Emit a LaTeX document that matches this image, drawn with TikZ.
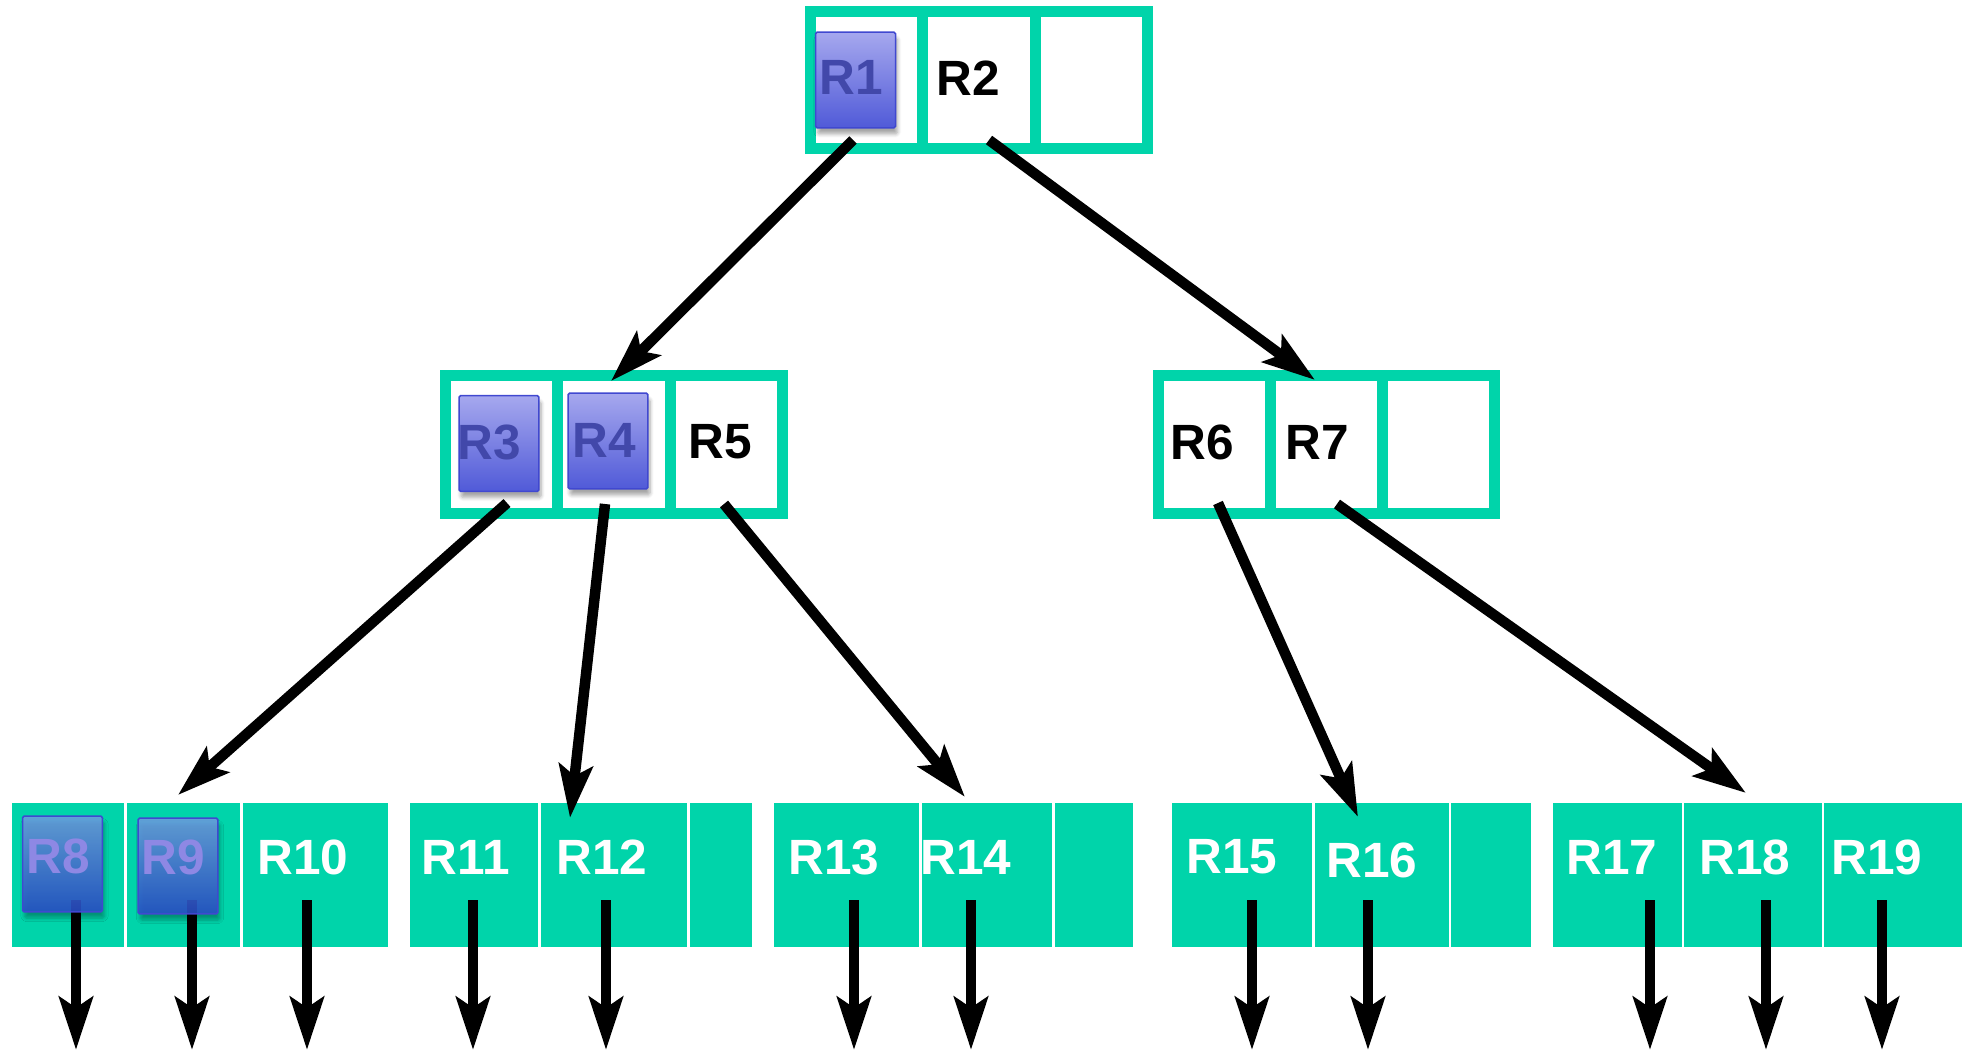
\documentclass[tikz,border=0pt]{standalone}
\usepackage{fontspec}
\setmainfont{Liberation Sans}
\usetikzlibrary{arrows.meta,shadows.blur}
\definecolor{tealgreen}{RGB}{0,212,170}
\definecolor{boxtop}{RGB}{166,168,238}
\definecolor{boxbot}{RGB}{80,90,216}
\definecolor{boxedge}{RGB}{64,72,208}
\definecolor{boxtext}{RGB}{66,72,170}
\definecolor{leaftop}{RGB}{108,156,222}
\definecolor{leafbot}{RGB}{40,78,200}
\definecolor{leaftext}{RGB}{142,136,228}

\tikzset{
    keycell/.style={draw=tealgreen, line width=0.22cm, minimum width=2.246cm, minimum height=2.75cm, inner sep=0pt},
    leafcell/.style={fill=tealgreen, minimum height=2.88cm, inner sep=0pt},
    rect/.style={draw=boxedge, line width=0.03cm, rounded corners=1pt, top color=boxtop, bottom color=boxbot,
        minimum width=1.6cm, minimum height=1.92cm, inner sep=0pt,
        blur shadow={shadow xshift=0.4mm, shadow yshift=-1.2mm, shadow opacity=35, shadow blur steps=6}},
    leafrect/.style={rect, top color=leaftop, bottom color=leafbot, fill opacity=0.88},
    entry/.style={font=\fontsize{28.2}{32}\selectfont\bfseries, inner sep=0pt},
    link/.style={line width=0.21cm, -{Stealth[length=30pt, width=19pt, inset=6pt]}}
}

\begin{document}
\begin{tikzpicture}[x=0.02cm, y=-0.02cm]
        \useasboundingbox (0,0) rectangle (1968,1053);

        \node[keycell] (t1) at (866.7,80) {};
        \node[keycell] (t2) at (979,80) {};
        \node[keycell] (t3) at (1091.3,80) {};

        \node[keycell] (m1) at (501.7,444.5) {};
        \node[keycell] (m2) at (614,444.5) {};
        \node[keycell] (m3) at (726.3,444.5) {};
        \node[keycell] (n1) at (1214.5,444.5) {};
        \node[keycell] (n2) at (1326.5,444.5) {};
        \node[keycell] (n3) at (1438.5,444.5) {};

        \node[leafcell, minimum width=2.24cm] (b1) at (68,875) {};
        \node[leafcell, minimum width=2.26cm] (b2) at (183.5,875) {};
        \node[leafcell, minimum width=2.90cm] (b3) at (315.5,875) {};
        \node[leafcell, minimum width=2.56cm] (b4) at (474,875) {};
        \node[leafcell, minimum width=2.92cm] (b5) at (614,875) {};
        \node[leafcell, minimum width=1.24cm] (b6) at (721,875) {};
        \node[leafcell, minimum width=2.90cm] (b7) at (846.5,875) {};
        \node[leafcell, minimum width=2.60cm] (b8) at (987,875) {};
        \node[leafcell, minimum width=1.56cm] (b9) at (1094,875) {};
        \node[leafcell, minimum width=2.80cm] (b10) at (1242,875) {};
        \node[leafcell, minimum width=2.68cm] (b11) at (1382,875) {};
        \node[leafcell, minimum width=1.60cm] (b12) at (1491,875) {};
        \node[leafcell, minimum width=2.58cm] (b13) at (1617.5,875) {};
        \node[leafcell, minimum width=2.76cm] (b14) at (1753,875) {};
        \node[leafcell, minimum width=2.76cm] (b15) at (1893,875) {};

        \coordinate (d1) at (76,900);    \coordinate (e1) at (76,1050);
        \coordinate (d2) at (192,900);   \coordinate (e2) at (192,1050);
        \coordinate (d3) at (307,900);   \coordinate (e3) at (307,1050);
        \coordinate (d4) at (473,900);   \coordinate (e4) at (473,1050);
        \coordinate (d5) at (606,900);   \coordinate (e5) at (606,1050);
        \coordinate (d6) at (854,900);   \coordinate (e6) at (854,1050);
        \coordinate (d7) at (971,900);   \coordinate (e7) at (971,1050);
        \coordinate (d8) at (1252,900);  \coordinate (e8) at (1252,1050);
        \coordinate (d9) at (1368,900);  \coordinate (e9) at (1368,1050);
        \coordinate (d10) at (1650,900); \coordinate (e10) at (1650,1050);
        \coordinate (d11) at (1766,900); \coordinate (e11) at (1766,1050);
        \coordinate (d12) at (1882,900); \coordinate (e12) at (1882,1050);

        \draw[link] (d1) -- (e1);
        \draw[link] (d2) -- (e2);
        \draw[link] (d3) -- (e3);
        \draw[link] (d4) -- (e4);
        \draw[link] (d5) -- (e5);
        \draw[link] (d6) -- (e6);
        \draw[link] (d7) -- (e7);
        \draw[link] (d8) -- (e8);
        \draw[link] (d9) -- (e9);
        \draw[link] (d10) -- (e10);
        \draw[link] (d11) -- (e11);
        \draw[link] (d12) -- (e12);

        \node[rect] (bx1) at (855.5,80) {};
        \node[rect] (bx3) at (499,443.5) {};
        \node[rect] (bx4) at (608,441) {};
        \node[leafrect] (bx8) at (62.5,864) {};
        \node[leafrect] (bx9) at (178,866) {};

        \node[entry, boxtext] (r1) at (851,77) {R1};
        \node[entry] (r2) at (968,78) {R2};
        \node[entry, boxtext] (r3) at (489,442) {R3};
        \node[entry, boxtext] (r4) at (604,440) {R4};
        \node[entry] (r5) at (720,442) {R5};
        \node[entry] (r6) at (1202,442) {R6};
        \node[entry] (r7) at (1317,442) {R7};
        \node[entry, leaftext] (r8) at (58,856) {R8};
        \node[entry, leaftext] (r9) at (173,857) {R9};
        \node[entry, white] (r10) at (303,857) {R10};
        \node[entry, white] (r11) at (466,857) {R11};
        \node[entry, white] (r12) at (602,857) {R12};
        \node[entry, white] (r13) at (834,857) {R13};
        \node[entry, white] (r14) at (966,857) {R14};
        \node[entry, white] (r15) at (1232,857) {R15};
        \node[entry, white] (r16) at (1372,860) {R16};
        \node[entry, white] (r17) at (1612,857) {R17};
        \node[entry, white] (r18) at (1745,857) {R18};
        \node[entry, white] (r19) at (1877,857) {R19};

        \coordinate (s1) at (853,140);  \coordinate (p1) at (611,381);
        \coordinate (s2) at (989,140);  \coordinate (p2) at (1315,380);
        \coordinate (s3) at (507,503);  \coordinate (p3) at (178,795);
        \coordinate (s4) at (605,504);  \coordinate (p4) at (570,818);
        \coordinate (s5) at (724,504);  \coordinate (p5) at (965,797);
        \coordinate (s6) at (1218,503); \coordinate (p6) at (1358,817);
        \coordinate (s7) at (1337,504); \coordinate (p7) at (1746,793);

        \draw[link] (s1) -- (p1);
        \draw[link] (s2) -- (p2);
        \draw[link] (s3) -- (p3);
        \draw[link] (s4) -- (p4);
        \draw[link] (s5) -- (p5);
        \draw[link] (s6) -- (p6);
        \draw[link] (s7) -- (p7);
\end{tikzpicture}
\end{document}
